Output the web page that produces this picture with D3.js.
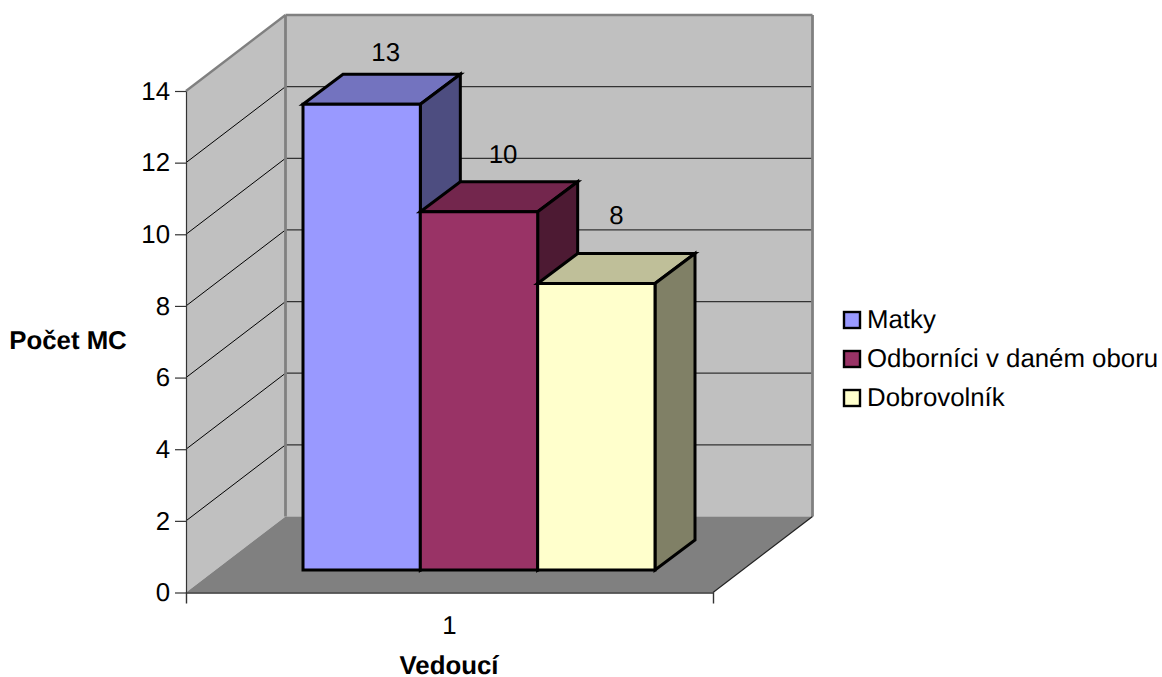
<!DOCTYPE html>
<html>
<head>
<meta charset="utf-8">
<script src="https://cdnjs.cloudflare.com/ajax/libs/d3/7.8.5/d3.min.js"></script>
<style>
  html, body { margin: 0; padding: 0; background: #fff; }
  svg { display: block; }
  text { font-family: "Liberation Sans", Arial, sans-serif; font-size: 25.8px; fill: #000; text-rendering: geometricPrecision; }
  .axis-title { font-weight: bold; }
</style>
</head>
<body>
<div id="chart"></div>
<script>
const categories = ["1"];
const seriesNames = ["Matky", "Odborníci v daném oboru", "Dobrovolník"];
const seriesValues = [13, 10, 8];
const yTicks = [0, 2, 4, 6, 8, 10, 12, 14];

const colors = ["#9999ff", "#993366", "#ffffcc"];
const topColors = ["#7373bf", "#73264d", "#bfbf99"];
const sideColors = ["#4d4d80", "#4d1a33", "#808066"];

const svgWidth = 1162;
const svgHeight = 677;

// box of the 3D scene: front wall edge plus offset to the back wall
const depth = { x: 99.5, y: -76 };
const barDepth = { x: 40, y: -30 };
const barBaseUp = 22.5;
// the value labels do not sit at a fixed distance above the bars
const labelShift = [{ x: 24, y: -43 }, { x: 24, y: -49 }, { x: 20, y: -59.5 }];

const yScale = d3.scaleLinear().domain([0, 14]).range([592.5, 91]);
const xScale = d3.scaleBand().domain(categories).range([186, 713]);
const barScale = d3.scaleBand().domain(seriesNames).range([303, 655]);

const x0 = xScale.range()[0];
const x1 = xScale.range()[1];
const y0 = yScale(0);
const yTop = yScale(14);

const svg = d3.select("#chart").append("svg")
  .attr("width", svgWidth)
  .attr("height", svgHeight);

const poly = (pts, fill, stroke, sw) => svg.append("polygon")
  .attr("points", pts.map(p => p.join(",")).join(" "))
  .attr("fill", fill)
  .attr("stroke", stroke || "none")
  .attr("stroke-width", sw || 0)
  .attr("stroke-linejoin", "miter");

const line = (a, b, stroke, sw) => svg.append("line")
  .attr("x1", a[0]).attr("y1", a[1])
  .attr("x2", b[0]).attr("y2", b[1])
  .attr("stroke", stroke)
  .attr("stroke-width", sw);

// walls
poly([[x0 + depth.x, yTop + depth.y], [x1 + depth.x, yTop + depth.y], [x1 + depth.x, y0 + depth.y], [x0 + depth.x, y0 + depth.y]], "#c0c0c0");
poly([[x0, yTop], [x0 + depth.x, yTop + depth.y], [x0 + depth.x, y0 + depth.y], [x0, y0]], "#c0c0c0");

// floor
poly([[x0, y0], [x0 + depth.x, y0 + depth.y], [x1 + depth.x, y0 + depth.y], [x1, y0]], "#808080");

// gridlines
yTicks.slice(1, -1).forEach(v => {
  line([x0, yScale(v)], [x0 + depth.x, yScale(v) + depth.y], "#000", 1);
  line([x0 + depth.x, yScale(v) + depth.y], [x1 + depth.x, yScale(v) + depth.y], "#333", 1.2);
});

// wall borders
line([x0, yTop], [x0 + depth.x, yTop + depth.y], "#808080", 2.4);
line([x0 + depth.x, yTop + depth.y], [x1 + depth.x, yTop + depth.y], "#808080", 2.4);
line([x0 + depth.x, yTop + depth.y], [x0 + depth.x, y0 + depth.y], "#808080", 2.8);
line([x1 + depth.x, yTop + depth.y], [x1 + depth.x, y0 + depth.y], "#808080", 2.8);
line([x1, y0], [x1 + depth.x, y0 + depth.y], "#222", 1.2);

// bars
seriesNames.forEach((name, i) => {
  const left = barScale(name);
  const right = left + barScale.bandwidth();
  const bottom = y0 - barBaseUp;
  const top = yScale(seriesValues[i]) - barBaseUp;
  poly([[left, top], [left + barDepth.x, top + barDepth.y], [right + barDepth.x, top + barDepth.y], [right, top]], topColors[i], "#000", 3);
  poly([[right, top], [right + barDepth.x, top + barDepth.y], [right + barDepth.x, bottom + barDepth.y], [right, bottom]], sideColors[i], "#000", 3);
  poly([[left, top], [right, top], [right, bottom], [left, bottom]], colors[i], "#000", 3);
});

// value labels
svg.selectAll(".value-label")
  .data(seriesValues)
  .join("text")
  .attr("class", "value-label")
  .attr("text-anchor", "middle")
  .attr("x", (d, i) => barScale(seriesNames[i]) + barScale.bandwidth() / 2 + labelShift[i].x)
  .attr("y", (d, i) => yScale(d) - barBaseUp + labelShift[i].y)
  .text(d => d);

// axes
const yAxis = svg.append("g")
  .call(d3.axisLeft(yScale).tickValues(yTicks).tickSize(11).tickSizeOuter(0).tickPadding(5))
  .attr("transform", `translate(${x0},0)`);
yAxis.selectAll("path").attr("stroke", "#333").attr("stroke-width", 1.2);
yAxis.selectAll("line").attr("stroke", "#333").attr("stroke-width", 1.2);

const xAxis = svg.append("g")
  .attr("transform", `translate(0,${y0})`)
  .call(d3.axisBottom(xScale).tickSizeInner(0).tickSizeOuter(11).tickPadding(23));
xAxis.selectAll("path").attr("stroke", "#333").attr("stroke-width", 1.4);

svg.selectAll(".tick text").style("font-family", "'Liberation Sans', Arial, sans-serif").style("font-size", "25.8px");

// axis titles
svg.append("text")
  .attr("class", "axis-title")
  .attr("x", 68)
  .attr("y", 349)
  .attr("text-anchor", "middle")
  .text("Počet MC");

svg.append("text")
  .attr("class", "axis-title")
  .attr("x", 449)
  .attr("y", 674)
  .attr("text-anchor", "middle")
  .text("Vedoucí");

// legend
const legendY = d3.scalePoint().domain(seriesNames).range([320, 398]);
const legend = svg.selectAll(".legend")
  .data(seriesNames)
  .join("g")
  .attr("class", "legend")
  .attr("transform", d => `translate(844,${legendY(d)})`);

legend.append("rect")
  .attr("x", 0)
  .attr("y", -8)
  .attr("width", 16)
  .attr("height", 16)
  .attr("fill", (d, i) => colors[i])
  .attr("stroke", "#000")
  .attr("stroke-width", 2.4);

legend.append("text")
  .attr("x", 23)
  .attr("y", 8)
  .text(d => d);
</script>
</body>
</html>
